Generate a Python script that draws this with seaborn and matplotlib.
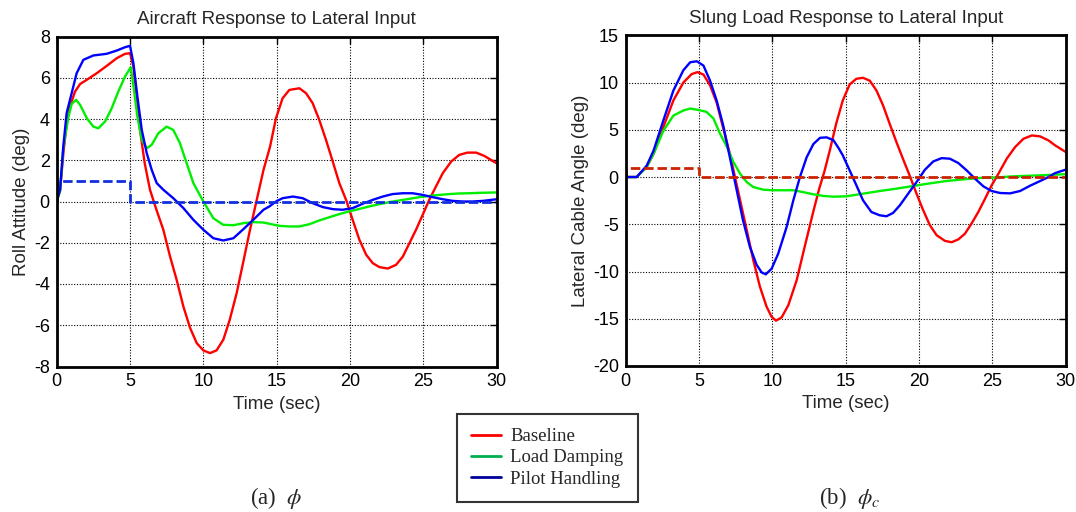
import numpy as np
import pandas as pd
import matplotlib
matplotlib.use("Agg")
import matplotlib.pyplot as plt
from matplotlib.lines import Line2D
import seaborn as sns

# ---------------- data ----------------
# Left panel: aircraft roll attitude (deg)
t_base_l = [0, 0.23, 0.45, 0.68, 0.9, 1.25, 1.6, 2.05, 2.73, 3.4, 4.1, 4.66, 5.0, 5.23, 5.45,
            5.68, 6.0, 6.36, 6.8, 7.27, 7.73, 8.18, 8.64, 9.1, 9.55, 10.0, 10.45, 10.9, 11.36,
            11.8, 12.27, 12.7, 13.18, 13.64, 14.1, 14.55, 14.95, 15.4, 15.86, 16.55, 17.0,
            17.45, 17.9, 18.36, 18.82, 19.27, 19.73, 20.18, 20.64, 21.1, 21.55, 22.0, 22.57,
            23.14, 23.6, 24.05, 24.5, 24.95, 25.4, 25.86, 26.32, 26.9, 27.45, 28.0, 28.6,
            29.16, 29.6, 30]
roll_baseline = [0, 0.55, 2.3, 3.8, 4.6, 5.33, 5.7, 5.9, 6.22, 6.57, 6.95, 7.16, 7.19, 6.54, 5.1,
                 3.47, 1.86, 0.57, -0.4, -1.37, -2.67, -3.8, -5.1, -6.14, -6.87, -7.22, -7.35,
                 -7.22, -6.7, -5.73, -4.44, -3.0, -1.37, 0.08, 1.53, 2.67, 4.04, 5.0, 5.41, 5.49,
                 5.25, 4.77, 3.96, 2.99, 1.94, 0.89, 0.08, -0.89, -1.86, -2.58, -2.99, -3.18,
                 -3.25, -3.07, -2.67, -2.02, -1.37, -0.65, 0.08, 0.73, 1.37, 1.94, 2.26, 2.37,
                 2.37, 2.21, 2.02, 1.85]

t_damp_l = [0, 0.23, 0.45, 0.8, 1.02, 1.32, 1.6, 2.05, 2.5, 2.84, 3.3, 3.75, 4.2, 4.66, 5.05,
            5.27, 5.5, 5.8, 6.14, 6.48, 6.93, 7.5, 7.95, 8.4, 8.86, 9.32, 10.0, 10.68, 11.36,
            12.05, 12.73, 13.4, 14.1, 14.5, 15.18, 15.86, 16.55, 17.23, 17.9, 18.6, 19.27,
            19.95, 20.64, 21.3, 22.0, 22.68, 23.36, 24.05, 24.73, 25.4, 26.1, 26.77, 27.45,
            28.14, 28.82, 30]
roll_damping = [0, 0.5, 2.6, 4.1, 4.73, 4.93, 4.68, 4.04, 3.63, 3.55, 3.88, 4.52, 5.33, 6.06,
                6.51, 5.41, 4.12, 3.0, 2.58, 2.75, 3.31, 3.63, 3.47, 2.83, 1.86, 0.89, 0.0,
                -0.81, -1.13, -1.15, -1.05, -1.0, -1.02, -1.08, -1.18, -1.21, -1.21, -1.1,
                -0.92, -0.76, -0.61, -0.48, -0.36, -0.24, -0.13, -0.03, 0.05, 0.13, 0.21, 0.27,
                0.32, 0.36, 0.39, 0.4, 0.42, 0.44]

t_pilot_l = [0, 0.23, 0.45, 0.68, 1.02, 1.36, 1.82, 2.5, 3.4, 4.1, 4.66, 5.0, 5.23, 5.5, 5.8,
             6.14, 6.48, 6.82, 7.27, 7.95, 8.64, 9.32, 10.0, 10.68, 11.36, 12.05, 12.73, 13.4,
             14.1, 14.5, 14.95, 15.4, 16.1, 16.77, 17.45, 18.14, 18.82, 19.5, 20.18, 20.86,
             21.55, 22.23, 22.9, 23.6, 24.27, 24.95, 25.64, 26.32, 27.0, 27.68, 28.36, 29.05, 30]
roll_pilot = [0, 0.57, 2.67, 4.3, 5.25, 6.22, 6.87, 7.08, 7.16, 7.32, 7.48, 7.55, 6.7, 5.1, 3.47,
              2.34, 1.53, 0.89, 0.57, 0.16, -0.32, -0.89, -1.37, -1.78, -1.89, -1.78, -1.34,
              -0.89, -0.4, -0.24, 0.0, 0.16, 0.24, 0.16, -0.08, -0.27, -0.37, -0.4, -0.32,
              -0.11, 0.08, 0.24, 0.36, 0.4, 0.4, 0.32, 0.21, 0.11, 0.03, 0.0, 0.0, 0.03, 0.11]

# Right panel: lateral cable angle (deg)
t_base_r = [0, 0.75, 1.43, 1.9, 2.57, 3.25, 3.93, 4.5, 4.89, 5.3, 5.75, 6.2, 6.6, 7.1, 7.45,
            7.8, 8.25, 8.7, 9.15, 9.6, 9.95, 10.25, 10.63, 11.09, 11.66, 12.2, 12.8, 13.2,
            13.55, 13.93, 14.36, 14.8, 15.27, 15.73, 16.18, 16.64, 17.1, 17.55, 18.0, 18.46,
            18.9, 19.4, 19.83, 20.28, 20.74, 21.2, 21.77, 22.22, 22.68, 23.13, 23.59, 24.04,
            24.5, 24.95, 25.41, 25.98, 26.55, 27.12, 27.69, 28.26, 28.83, 29.28, 30]
cable_baseline = [0, 0, 1.06, 2.46, 5.3, 8.1, 10.0, 10.9, 11.1, 10.85, 9.7, 7.9, 5.46, 2.46, 0,
                  -2.46, -5.6, -8.8, -11.6, -13.7, -14.8, -15.2, -14.86, -13.56, -10.9, -7.4,
                  -3.6, -1.2, 0.6, 2.9, 5.7, 8.1, 9.8, 10.4, 10.5, 10.2, 9.15, 7.57, 5.63, 3.7,
                  1.94, 0, -1.76, -3.5, -5.1, -6.16, -6.76, -6.9, -6.6, -6.0, -4.9, -3.7, -2.3,
                  -0.88, 0.35, 1.94, 3.17, 4.05, 4.4, 4.3, 3.87, 3.35, 2.65]

t_damp_r = [0, 0.75, 1.43, 1.9, 2.57, 3.25, 3.93, 4.4, 4.95, 5.5, 5.98, 6.43, 6.9, 7.34, 7.8,
            8.25, 8.7, 9.38, 10.07, 10.75, 11.43, 12.1, 12.8, 13.47, 14.16, 15.05, 16.18,
            17.32, 18.46, 19.6, 20.74, 21.88, 23.0, 24.16, 25.3, 26.4, 27.57, 28.7, 30]
cable_damping = [0, 0, 1.06, 2.46, 4.9, 6.5, 7.04, 7.25, 7.1, 6.9, 6.2, 4.6, 3.2, 1.6, 0.35,
                 -0.53, -1.06, -1.34, -1.4, -1.4, -1.4, -1.6, -1.83, -2.0, -2.08, -2.04, -1.76,
                 -1.48, -1.23, -0.95, -0.67, -0.42, -0.25, -0.1, -0.04, 0.07, 0.14, 0.21, 0.3]

t_pilot_r = [0, 0.75, 1.43, 1.9, 2.57, 3.25, 3.93, 4.4, 4.85, 5.3, 5.75, 6.2, 6.65, 7.1, 7.57,
             8.0, 8.47, 8.93, 9.27, 9.55, 9.95, 10.4, 10.97, 11.43, 11.88, 12.34, 12.8, 13.25,
             13.7, 14.16, 14.5, 14.8, 15.27, 15.73, 16.18, 16.75, 17.32, 17.78, 18.23, 18.69,
             19.26, 19.83, 20.4, 20.97, 21.54, 22.1, 22.68, 23.25, 23.82, 24.39, 24.95, 25.52,
             26.2, 26.89, 27.57, 28.26, 28.83, 29.28, 30]
cable_pilot = [0, 0, 1.2, 2.8, 6.0, 9.15, 11.3, 12.15, 12.25, 11.8, 10.2, 8.1, 5.46, 2.1, -1.4,
               -4.6, -7.4, -9.3, -10.1, -10.3, -9.7, -8.1, -5.3, -2.46, 0, 2.1, 3.5, 4.15, 4.2,
               3.9, 3.1, 2.3, 0.7, -0.88, -2.46, -3.7, -4.05, -4.15, -3.8, -3.0, -1.76, -0.53,
               0.77, 1.65, 2.0, 1.94, 1.48, 0.7, -0.18, -0.99, -1.48, -1.69, -1.73, -1.48,
               -0.92, -0.42, 0, 0.42, 0.78]

# lateral input (step)
t_input = [0, 0, 5, 5, 30]
lat_input = [0, 1, 1, 0, 0]

series_names = ["Baseline", "Load Damping", "Pilot Handling"]
series_colors = ["#ff0000", "#00ee00", "#0000ff"]
legend_colors = ["#ff0000", "#00b050", "#000099"]

# ---------------- style ----------------
sns.set_theme(style="white")
plt.rcParams['font.family'] = ['Liberation Sans', 'DejaVu Sans']
plt.rcParams['mathtext.fontset'] = 'stix'
plt.rcParams['axes.unicode_minus'] = False

W, H = 1076, 512
fig = plt.figure(figsize=(W / 100, H / 100), dpi=100)
ax1 = fig.add_axes([56.7 / W, 1 - 366.5 / H, 440 / W, 330 / H])
ax2 = fig.add_axes([625.7 / W, 1 - 366.0 / H, 440 / W, 330.7 / H])

lw = 1.7
dash_lw = 2.0
dash = (0, (3.4, 1.4))

left_sets = [(t_base_l, roll_baseline), (t_damp_l, roll_damping), (t_pilot_l, roll_pilot)]
for (tt, vv), c in zip(left_sets, series_colors):
    sns.lineplot(x=tt, y=vv, ax=ax1, color=c, lw=lw, estimator=None, sort=False)
sns.lineplot(x=t_input, y=lat_input, ax=ax1, color="#1030e0", lw=dash_lw, linestyle=dash,
             estimator=None, sort=False)

right_sets = [(t_base_r, cable_baseline), (t_damp_r, cable_damping), (t_pilot_r, cable_pilot)]
for (tt, vv), c in zip(right_sets, series_colors):
    sns.lineplot(x=tt, y=vv, ax=ax2, color=c, lw=lw, estimator=None, sort=False)
sns.lineplot(x=t_input, y=lat_input, ax=ax2, color="#cc2200", lw=dash_lw, linestyle=dash,
             estimator=None, sort=False)

fs_tick = 13
fs_lab = 13.5
for ax, ylim, yticks, title, ylabel in [
        (ax1, (-8, 8), np.arange(-8, 9, 2), "Aircraft Response to Lateral Input", "Roll Attitude (deg)"),
        (ax2, (-20, 15), np.arange(-20, 16, 5), "Slung Load Response to Lateral Input", "Lateral Cable Angle (deg)")]:
    ax.set_xlim(0, 30)
    ax.set_ylim(*ylim)
    ax.set_xticks(np.arange(0, 31, 5))
    ax.set_yticks(yticks)
    ax.grid(True, linestyle=(0, (1, 1.5)), color="black", lw=0.8)
    ax.set_axisbelow(True)
    for s in ax.spines.values():
        s.set_linewidth(2.0)
        s.set_color("black")
        s.set_visible(True)
    ax.tick_params(direction="in", length=5, width=1, top=True, right=True,
                   labelsize=fs_tick, pad=5, colors="black")
    ax.set_title(title, fontsize=fs_lab, pad=9)
    ax.set_xlabel("Time (sec)", fontsize=fs_lab, labelpad=4)
    ax.set_ylabel(ylabel, fontsize=fs_lab, labelpad=3)

handles = [Line2D([0], [0], color=c, lw=2) for c in legend_colors]
leg = fig.legend(handles, series_names, loc="upper left",
                 bbox_to_anchor=(457 / W, 1 - 414 / H), frameon=True, fancybox=False,
                 edgecolor="black", prop={"family": "Liberation Serif", "size": 13.5},
                 handlelength=1.6, handletextpad=0.5, labelspacing=0.22, borderpad=0.75,
                 borderaxespad=0)
leg.get_frame().set_linewidth(1.5)
leg.set_in_layout(False)

fig.text(276 / W, 1 - 498 / H, r"(a)  $\phi$", ha="center", va="center",
         family="Liberation Serif", fontsize=16.5)
fig.text(850 / W, 1 - 498 / H, r"(b)  $\phi_c$", ha="center", va="center",
         family="Liberation Serif", fontsize=16.5)

fig.savefig("out.png", dpi=100, facecolor="white")
